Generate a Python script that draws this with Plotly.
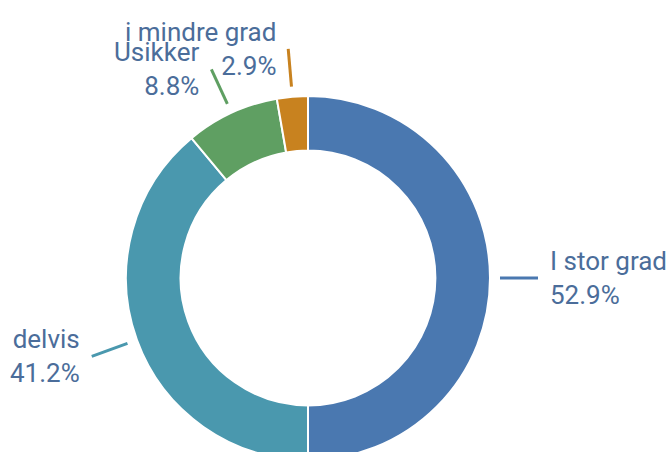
import math
import plotly.graph_objects as go

# ---- data ----
categories = ["I stor grad", "delvis", "Usikker", "i mindre grad"]
percent_values = [52.9, 41.2, 8.8, 2.9]

# ---- style ----
slice_colors = ["#4a78b0", "#4a98ae", "#5f9f62", "#c8821f"]
text_color = "#4b6d9a"
W, H = 668, 460          # donut bottom runs slightly past the 452px window, as in the reference
cx, cy, R = 308, 278, 182
hole = 0.70
font_size = 26

fig = go.Figure()

fig.add_trace(go.Pie(
    labels=categories,
    values=percent_values,
    hole=hole,
    sort=False,
    direction="clockwise",
    rotation=0,
    marker=dict(colors=slice_colors, line=dict(color="white", width=2)),
    textinfo="none",
    hoverinfo="skip",
    showlegend=False,
    domain=dict(x=[(cx - R) / W, (cx + R) / W],
                y=[max(0, (H - cy - R) / H), (H - cy + R) / H]),
))

# invisible pixel-space axes for leader lines and labels
fig.add_trace(go.Scatter(x=[0, W], y=[0, H], mode="markers",
                         marker=dict(opacity=0), hoverinfo="skip", showlegend=False))

total = sum(percent_values)
cum = 0.0
r1, r2, gap = R + 10, R + 48, 10
for cat, p, col in zip(categories, percent_values, slice_colors):
    theta = math.radians((cum + p / 2) / total * 360)
    cum += p
    s, c = math.sin(theta), math.cos(theta)
    x1, y1 = cx + r1 * s, cy - r1 * c
    x2, y2 = cx + r2 * s, cy - r2 * c
    fig.add_shape(type="line", x0=x1, y0=y1, x1=x2, y1=y2, xref="x", yref="y",
                  line=dict(color=col, width=3))
    right = s >= 0
    fig.add_annotation(
        x=x2 + (gap if right else -gap), y=y2, xref="x", yref="y",
        text=f"{cat}<br>{p:.1f}%",
        showarrow=False,
        xanchor="left" if right else "right",
        yanchor="middle",
        align="left" if right else "right",
        font=dict(family="Roboto", size=font_size, color=text_color),
    )

fig.update_layout(
    width=W, height=H,
    margin=dict(l=0, r=0, t=0, b=0),
    paper_bgcolor="white", plot_bgcolor="rgba(0,0,0,0)",
    xaxis=dict(range=[0, W], visible=False, fixedrange=True),
    yaxis=dict(range=[H, 0], visible=False, fixedrange=True),
    showlegend=False,
)

fig.write_html(
    "out.html",
    config={"displayModeBar": False},
    post_script="document.body.style.margin='0';document.body.style.overflow='hidden';",
)
